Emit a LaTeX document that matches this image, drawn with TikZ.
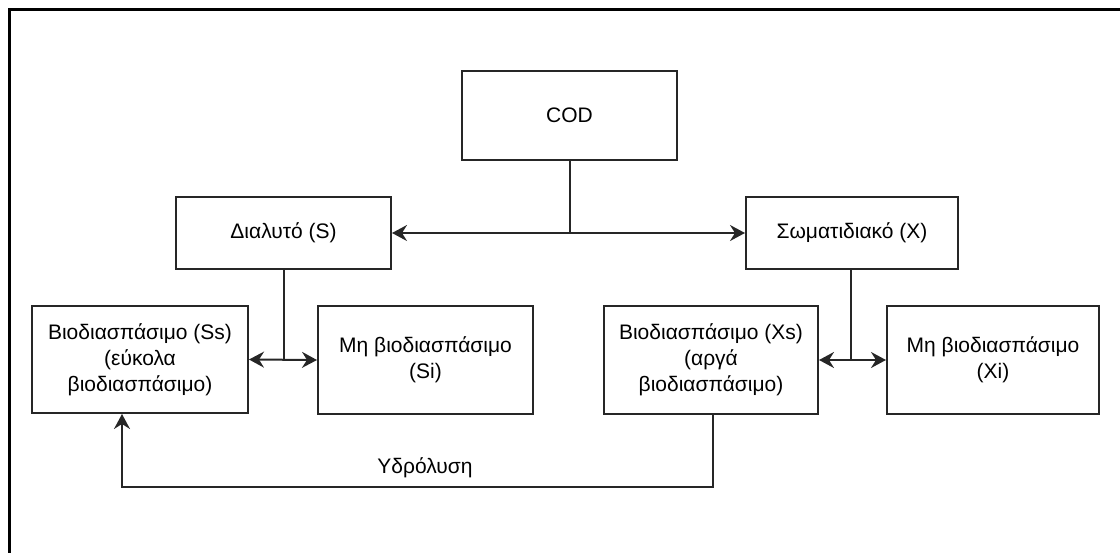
\documentclass[tikz,border=0pt]{standalone}
\usepackage{fontspec}
\setmainfont{Liberation Sans}
\usetikzlibrary{arrows.meta}
\tikzset{
  box/.style={draw=black!85, line width=1pt, fill=white, align=center, inner sep=2pt,
    font=\fontsize{10.5pt}{13pt}\selectfont},
  conn/.style={draw=black!85, line width=1pt},
  tip/.tip={Stealth[length=7.5pt,width=8pt,inset=2.5pt]},
  arr/.style={conn, -tip},
  darr/.style={conn, tip-tip},
  lbl/.style={font=\fontsize{10.5pt}{13pt}\selectfont, inner sep=0pt}
}
\begin{document}
\begin{tikzpicture}[x=0.5pt,y=-0.5pt]
\useasboundingbox (0,0) rectangle (1120,552);
\begin{scope}
\clip (0,0) rectangle (1120,552);
\draw[line width=1.5pt] (9,570) -- (9,9) -- (1140,9);
\end{scope}
\node[box, minimum width=107.5pt, minimum height=44.5pt] (cod) at (569.5,115.5) {COD};
\node[box, minimum width=107.5pt, minimum height=36pt] (s) at (283.5,233) {Διαλυτό (S)};
\node[box, minimum width=106pt, minimum height=36pt] (x) at (852,233) {Σωματιδιακό (X)};
\node[box, minimum width=108pt, minimum height=53.5pt] (ss) at (140,359.5) {Βιοδιασπάσιμο (Ss)\\(εύκολα\\βιοδιασπάσιμο)};
\node[box, minimum width=107.5pt, minimum height=54pt] (si) at (425.5,360) {Μη βιοδιασπάσιμο\\(Si)};
\node[box, minimum width=107pt, minimum height=54pt] (xs) at (711,360) {Βιοδιασπάσιμο (Xs)\\(αργά\\βιοδιασπάσιμο)};
\node[box, minimum width=106pt, minimum height=54pt] (xi) at (993,360) {Μη βιοδιασπάσιμο\\(Xi)};
\coordinate (j1) at (cod.south |- s.east);
\draw[conn] (cod.south) -- (j1);
\draw[darr] (s.east) -- (x.west);
\coordinate (j2) at (s.south |- ss.east);
\draw[conn] (s.south) -- (j2);
\draw[darr] (ss.east) -- (si.west);
\coordinate (j3) at (851,360);
\draw[conn] (x.south -| j3) -- (j3);
\draw[darr] (xs.east) -- (xi.west);
\coordinate (h1) at (713,487);
\coordinate (h2) at (122,487);
\draw[arr] (xs.south -| h1) -- (h1) -- (h2) -- (h2 |- ss.south);
\node[lbl] (hyd) at (425,468) {Υδρόλυση};
\end{tikzpicture}
\end{document}
